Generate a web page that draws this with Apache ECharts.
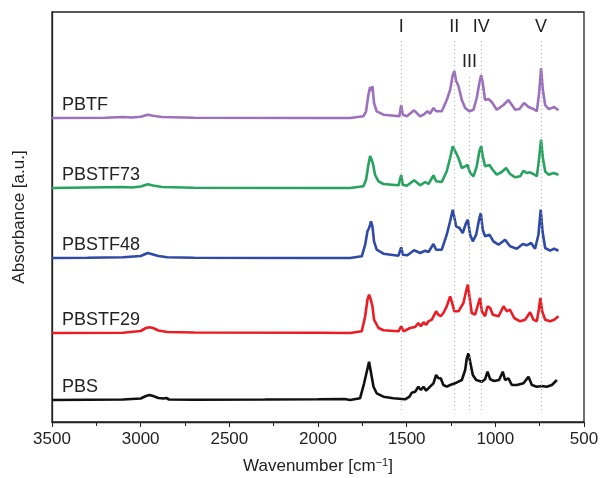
<!DOCTYPE html>
<html>
<head>
<meta charset="utf-8">
<title>FTIR spectra</title>
<script src="https://cdn.jsdelivr.net/npm/echarts@6/dist/echarts.min.js"></script>
<style>
  html, body { margin: 0; padding: 0; background: #fff; }
  #chart { width: 601px; height: 478px; }
</style>
</head>
<body>
<div id="chart"></div>
<script>
// 样品名称 (bottom -> top) 与颜色
var sampleNames = ["PBS", "PBSTF29", "PBSTF48", "PBSTF73", "PBTF"];
var sampleColors = ["#111111", "#ec1c24", "#2e4aa6", "#25a35f", "#9b70bd"];
// 每条曲线的竖直偏移 (a.u.)
var offsets = [22, 89, 164, 234, 304];

// 光谱 [wavenumber, absorbance above baseline]
var pbs = [
  [3500, 0], [3300, 0.3], [3100, 0.5], [3000, 1.5], [2970, 4], [2950, 5], [2930, 4], [2900, 2],
  [2870, 1.5], [2855, 2], [2840, 0.5], [2700, 0.3], [2300, 0.5], [2000, 0.8], [1850, 1], [1819, 0],
  [1763, 1.7], [1740, 16.7], [1725, 28.3], [1712, 38.3], [1702, 28.3], [1687, 13.3], [1669, 6.7],
  [1631, 3.3], [1575, 1.7], [1509, 0.7], [1484, 3.3], [1471, 7.3], [1452, 8.3], [1434, 13.3],
  [1420, 10], [1405, 13.3], [1390, 9.3], [1368, 13.3], [1349, 16.7], [1334, 25], [1321, 21.7],
  [1308, 21.7], [1293, 15], [1274, 13.3], [1255, 15], [1227, 16.7], [1208, 18.3], [1189, 20],
  [1170, 30], [1161, 41.7], [1152, 46.7], [1142, 38.3], [1127, 25], [1108, 20], [1076, 18.3],
  [1058, 20.7], [1044, 28.3], [1029, 20.7], [1007, 19], [979, 20], [958, 28.3], [945, 20],
  [926, 21.7], [907, 15], [879, 15], [841, 16.7], [813, 23.3], [794, 15], [766, 13.3],
  [738, 14], [710, 13.3], [681, 15], [653, 20]
];
var pbstf29 = [
  [3500, 0], [3100, 0.3], [3000, 2], [2970, 5], [2950, 5.7], [2930, 5], [2900, 2.5], [2850, 1],
  [2700, 0.5], [2000, 0.3], [1819, 0], [1753, 1.7], [1734, 16.7], [1721, 33.3], [1712, 38.3],
  [1702, 33.3], [1693, 26.7], [1684, 13.3], [1659, 5], [1631, 2.7], [1546, 1.7], [1531, 6.7],
  [1518, 1.7], [1481, 5], [1452, 6], [1434, 10], [1420, 6.7], [1405, 10.7], [1390, 8.3],
  [1377, 11.7], [1358, 13.3], [1334, 21.7], [1321, 18.3], [1308, 16.7], [1293, 20], [1274, 26.7],
  [1255, 36.7], [1246, 31.7], [1231, 21.7], [1208, 21.7], [1180, 30], [1165, 41.7], [1155, 48.3],
  [1146, 36.7], [1133, 20], [1114, 18.3], [1095, 30], [1086, 35], [1076, 21.7], [1058, 16.7],
  [1044, 26.7], [1029, 25], [1014, 18.3], [982, 16.7], [954, 26.7], [935, 21.7], [917, 23.3],
  [894, 15], [860, 11.7], [832, 13.3], [804, 20.7], [785, 13.3], [766, 11.7], [755, 23.3],
  [746, 35], [736, 21.7], [719, 13.3], [691, 11.7], [668, 13.3], [644, 16.7]
];
var pbstf48 = [
  [3500, 0], [3300, 0.3], [3100, 0.8], [3000, 2], [2960, 5], [2940, 4], [2900, 2], [2850, 0.8],
  [2700, 0.2], [2000, 0], [1819, 0], [1753, 1.7], [1734, 13.3], [1721, 26.7], [1712, 30],
  [1706, 33.3], [1701, 36.7], [1693, 31.7], [1684, 16.7], [1669, 8.3], [1631, 4.3], [1546, 2.3],
  [1531, 10.7], [1522, 3.3], [1496, 2.7], [1458, 7.7], [1424, 5], [1396, 7.3], [1377, 6],
  [1349, 14], [1334, 8.3], [1302, 8.3], [1274, 23.3], [1255, 36.7], [1240, 48.3], [1231, 46.7],
  [1221, 31.7], [1202, 30], [1184, 25], [1165, 35], [1155, 38.3], [1142, 23.3], [1127, 16.7],
  [1108, 23.3], [1090, 40], [1082, 45], [1071, 28.3], [1058, 21.7], [1033, 23.3], [1011, 16.7],
  [982, 13.3], [945, 18.3], [917, 11.7], [879, 9.3], [845, 14], [823, 12.7], [798, 15],
  [776, 9.3], [757, 23.3], [744, 48.3], [734, 26.7], [719, 10], [691, 7.3], [668, 9.3], [644, 7.3]
];
var pbstf73 = [
  [3500, 0], [3100, 1], [3050, 0.5], [3000, 1.5], [2960, 3.7], [2930, 2.5], [2880, 1], [2700, 0.3],
  [2000, 0], [1819, 0], [1744, 1.7], [1729, 8.3], [1716, 23], [1706, 32], [1697, 30], [1691, 25],
  [1678, 13], [1659, 6.7], [1631, 4], [1546, 2.7], [1531, 13], [1522, 3.3], [1499, 2.3],
  [1458, 7.7], [1424, 2.7], [1396, 6], [1377, 4], [1349, 12.7], [1334, 6.7], [1302, 6],
  [1274, 16.7], [1255, 30], [1240, 41.7], [1231, 43], [1221, 35], [1208, 30], [1189, 20],
  [1170, 21.7], [1157, 23], [1142, 15], [1123, 11.7], [1105, 21.7], [1090, 36.7], [1080, 41.7],
  [1071, 31.7], [1058, 21.7], [1033, 23], [1014, 18], [992, 13.3], [964, 16], [939, 20],
  [917, 14], [888, 10.7], [860, 11.7], [841, 17.3], [823, 15], [804, 15.7], [785, 14],
  [766, 11.7], [755, 26.7], [742, 48.3], [732, 30], [719, 16.7], [700, 13.3], [672, 15], [644, 13.3]
];
var pbtf = [
  [3500, 0], [3200, 0.3], [3100, 1], [3050, 0.5], [3000, 1.2], [2960, 3.3], [2930, 2.3], [2880, 1],
  [2700, 0.3], [2000, 0], [1819, 0], [1744, 1.7], [1729, 6.7], [1716, 23], [1706, 31], [1701, 27],
  [1693, 32], [1684, 15], [1669, 6.7], [1631, 3.3], [1541, 1.7], [1531, 13], [1522, 3.3],
  [1499, 1.7], [1458, 7.7], [1424, 1.7], [1405, 3.3], [1383, 6.7], [1368, 4.3], [1349, 10],
  [1334, 6.7], [1302, 6.7], [1274, 18], [1255, 28], [1240, 43], [1231, 47], [1221, 37],
  [1208, 32], [1189, 18], [1170, 10], [1146, 6.7], [1123, 8.3], [1105, 20], [1090, 35],
  [1080, 43], [1071, 35], [1058, 18], [1039, 19], [1020, 16], [992, 8.3], [954, 13], [926, 18],
  [888, 8.3], [864, 9], [838, 15], [813, 11], [785, 9], [766, 6.7], [753, 25], [742, 50],
  [732, 28], [719, 13], [700, 9], [681, 10], [668, 11], [644, 7.7]
];
var spectra = [pbs, pbstf29, pbstf48, pbstf73, pbtf];

// 特征峰位置 (I - V)
var bandNames = ["I", "II", "III", "IV", "V"];
var bandPositions = [1531, 1231, 1145, 1080, 742];
var bandTops = [382, 382, 347, 382, 382];
var bandBottom = 12;

var myChart = echarts.init(document.getElementById("chart"));
var fontFamily = "'Liberation Sans', Arial, sans-serif";

var series = sampleNames.map(function (name, i) {
  return {
    name: name,
    type: "line",
    showSymbol: false,
    silent: true,
    lineStyle: { color: sampleColors[i], width: 2.6 },
    data: spectra[i].map(function (p) {
      return [p[0], p[1] + offsets[i]];
    }),
  };
});

// 虚线标记
series[0].markLine = {
  silent: true,
  symbol: "none",
  lineStyle: { type: [1, 3], color: "#b0b0b0", width: 1 },
  label: {
    show: true,
    position: "end",
    distance: 4,
    color: "#222",
    fontSize: 18,
    fontFamily: fontFamily,
    formatter: function (p) {
      return p.name;
    },
  },
  data: bandNames.map(function (b, i) {
    return [
      { name: b, coord: [bandPositions[i], bandBottom] },
      { coord: [bandPositions[i], bandTops[i]] },
    ];
  }),
};

var option = {
  animation: false,
  grid: {
    left: 52,
    right: 17,
    top: 12,
    bottom: 56,
    outerBoundsMode: "none",
    show: true,
    borderColor: "#222",
    borderWidth: 1.3,
  },
  xAxis: {
    type: "value",
    inverse: true,
    min: 500,
    max: 3500,
    interval: 500,
    name: "Wavenumber [cm{sup|−1}]",
    nameLocation: "middle",
    nameGap: 35,
    nameTextStyle: {
      color: "#222",
      fontSize: 17,
      fontFamily: fontFamily,
      rich: { sup: { fontSize: 11, verticalAlign: "top", padding: [0, 0, 8, 0], color: "#222" } },
    },
    axisLine: { show: true, lineStyle: { color: "#222", width: 1.3 } },
    axisTick: { show: true, inside: false, length: 5, lineStyle: { color: "#222" } },
    minorTick: { show: true, splitNumber: 2, length: 4, lineStyle: { color: "#222" } },
    axisLabel: {
      color: "#222",
      fontSize: 17,
      fontFamily: fontFamily,
      margin: 9,
      formatter: function (v) {
        return String(v);
      },
    },
    splitLine: { show: false },
  },
  yAxis: {
    type: "value",
    min: 0,
    max: 410,
    name: "Absorbance [a.u.]",
    nameLocation: "middle",
    nameGap: 24,
    nameTextStyle: { color: "#222", fontSize: 17, fontFamily: fontFamily },
    axisLine: { show: true, lineStyle: { color: "#222", width: 1.3 } },
    axisTick: { show: false },
    axisLabel: { show: false },
    splitLine: { show: false },
  },
  series: series,
};

myChart.setOption(option);

// 样品名称标注
var graphics = sampleNames.map(function (name, i) {
  var pt = myChart.convertToPixel({ gridIndex: 0 }, [3500, offsets[i]]);
  return {
    type: "text",
    x: pt[0] + 10,
    y: pt[1] - 13,
    silent: true,
    style: {
      text: name,
      fill: "#222",
      font: "18px " + fontFamily,
      textVerticalAlign: "middle",
      verticalAlign: "middle",
    },
  };
});
myChart.setOption({ graphic: graphics });
</script>
</body>
</html>
